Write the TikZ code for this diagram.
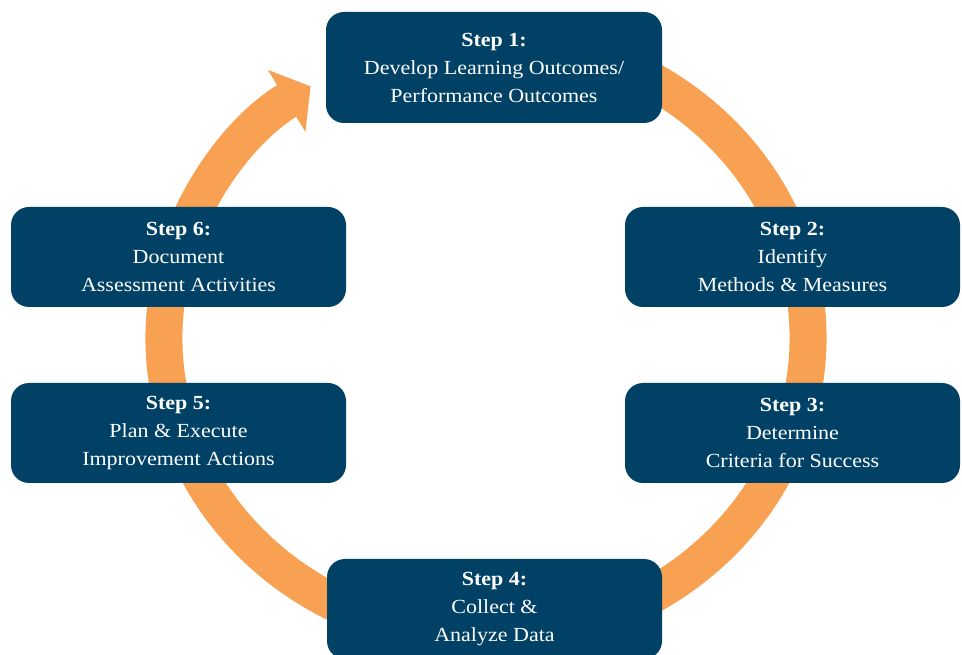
\documentclass[tikz,border=0pt]{standalone}
\usepackage{fontspec}
\setmainfont{Liberation Serif}[FakeStretch=1.1]
\usetikzlibrary{arrows.meta,positioning}
\definecolor{stepblue}{RGB}{1,65,101}
\definecolor{ringorange}{RGB}{248,161,82}

\begin{document}
\begin{tikzpicture}[x=1pt,y=1pt,
			stepbox/.style={fill=stepblue, rounded corners=18pt, minimum width=335pt,
				minimum height=100pt, inner sep=0pt, align=center, text=white,
				font=\fontsize{20}{28}\selectfont},
			ring/.style={draw=ringorange, line width=37pt,
				-{Triangle[width=71pt,length=28pt]}}]
			\useasboundingbox (0,0) rectangle (962,654);
			\coordinate (c) at (486,316);
			% the cycle behind the boxes
			\draw[ring] ([shift={(75:322 and 300)}]c)
			arc[start angle=75, end angle=-237, x radius=322, y radius=300];
			\node[stepbox, minimum width=336pt, minimum height=111pt] (step_1) at (494,586.5)
			{\textbf{Step 1:}\\Develop Learning Outcomes/\\Performance Outcomes};
			\node[stepbox] (step_2) at (792.5,397) {\textbf{Step 2:}\\Identify\\Methods \& Measures};
			\node[stepbox] (step_3) at (792.5,221) {\textbf{Step 3:}\\Determine\\Criteria for Success};
			\node[stepbox] (step_4) at (494.5,45) {\textbf{Step 4:}\\Collect \&\\Analyze Data};
			\node[stepbox] (step_5) at (178.5,221) {\textbf{Step 5:}\\Plan \& Execute\\Improvement Actions};
			\node[stepbox] (step_6) at (178.5,397) {\textbf{Step 6:}\\Document\\Assessment Activities};
		\end{tikzpicture}
\end{document}
